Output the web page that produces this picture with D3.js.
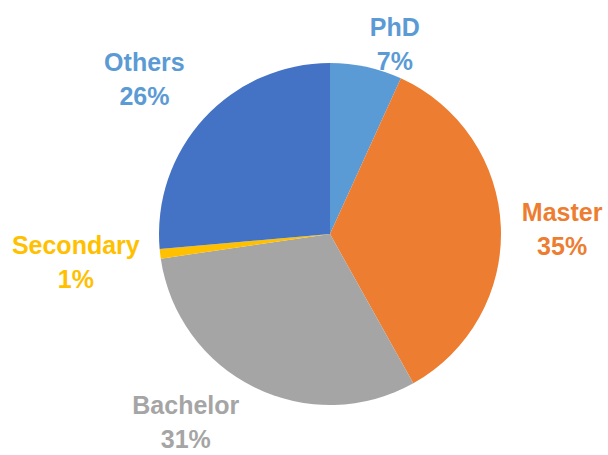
<!DOCTYPE html>
<html>
<head>
<meta charset="utf-8">
<script src="https://cdn.jsdelivr.net/npm/d3@7/dist/d3.min.js"></script>
<style>
  body { margin: 0; background: #fff; }
  text { font-family: "Liberation Sans", Arial, sans-serif; font-weight: bold; font-size: 25px; }
</style>
</head>
<body>
<script>
// data (share of respondents, clockwise from 12 o'clock)
var categories = ["PhD", "Master", "Bachelor", "Secondary", "Others"];
var values = [6.8, 35.1, 30.8, 0.9, 26.4];
var sliceColors = ["#5B9BD5", "#ED7D31", "#A5A5A5", "#FFC000", "#4472C4"];
var labelColors = ["#5B9BD5", "#ED7D31", "#A5A5A5", "#FFC000", "#5B9BD5"];

// small hand nudges for the data labels (excel "best fit" placement)
var labelNudge = [[19, 22], [1, 4], [-36, -7], [-1, 3], [-15, -8]];

var width = 608, height = 455;
var cx = 330, cy = 234, radius = 171;
var pad = 20, lineGap = 34, capH = 18;

var svg = d3.select("body").append("svg")
    .attr("width", width)
    .attr("height", height);

var g = svg.append("g")
    .attr("transform", "translate(" + cx + "," + cy + ")");

var rows = categories.map(function(c, i){ return {name: c, value: values[i], i: i}; });
var total = d3.sum(values);
var pct = d3.format(".0%");

var pie = d3.pie().sort(null).value(function(d){ return d.value; });
var arc = d3.arc().innerRadius(0).outerRadius(radius);

var arcs = pie(rows);

g.selectAll("path.slice")
    .data(arcs)
    .enter()
    .append("path")
    .attr("class", "slice")
    .attr("d", arc)
    .attr("fill", function(d){ return sliceColors[d.data.i]; });

var labels = g.selectAll("g.lbl")
    .data(arcs)
    .enter()
    .append("g")
    .attr("class", "lbl");

labels.append("text")
    .attr("text-anchor", "middle")
    .attr("y", -lineGap / 2 + capH / 2)
    .attr("fill", function(d){ return labelColors[d.data.i]; })
    .text(function(d){ return d.data.name; });

labels.append("text")
    .attr("text-anchor", "middle")
    .attr("y", lineGap / 2 + capH / 2)
    .attr("fill", function(d){ return labelColors[d.data.i]; })
    .text(function(d){ return pct(d.data.value / total); });

// put each label box just outside the rim, along the slice mid angle
labels.attr("transform", function(d){
    var a = (d.startAngle + d.endAngle) / 2;
    var dx = Math.sin(a), dy = -Math.cos(a);
    var w = 0;
    d3.select(this).selectAll("text").each(function(){ w = Math.max(w, this.getComputedTextLength()); });
    var h = lineGap + capH;
    var n = labelNudge[d.data.i];
    var x = dx * (radius + pad) + dx * w / 2 + n[0];
    var y = dy * (radius + pad) + dy * h / 2 + n[1];
    return "translate(" + x + "," + y + ")";
});
</script>
</body>
</html>
